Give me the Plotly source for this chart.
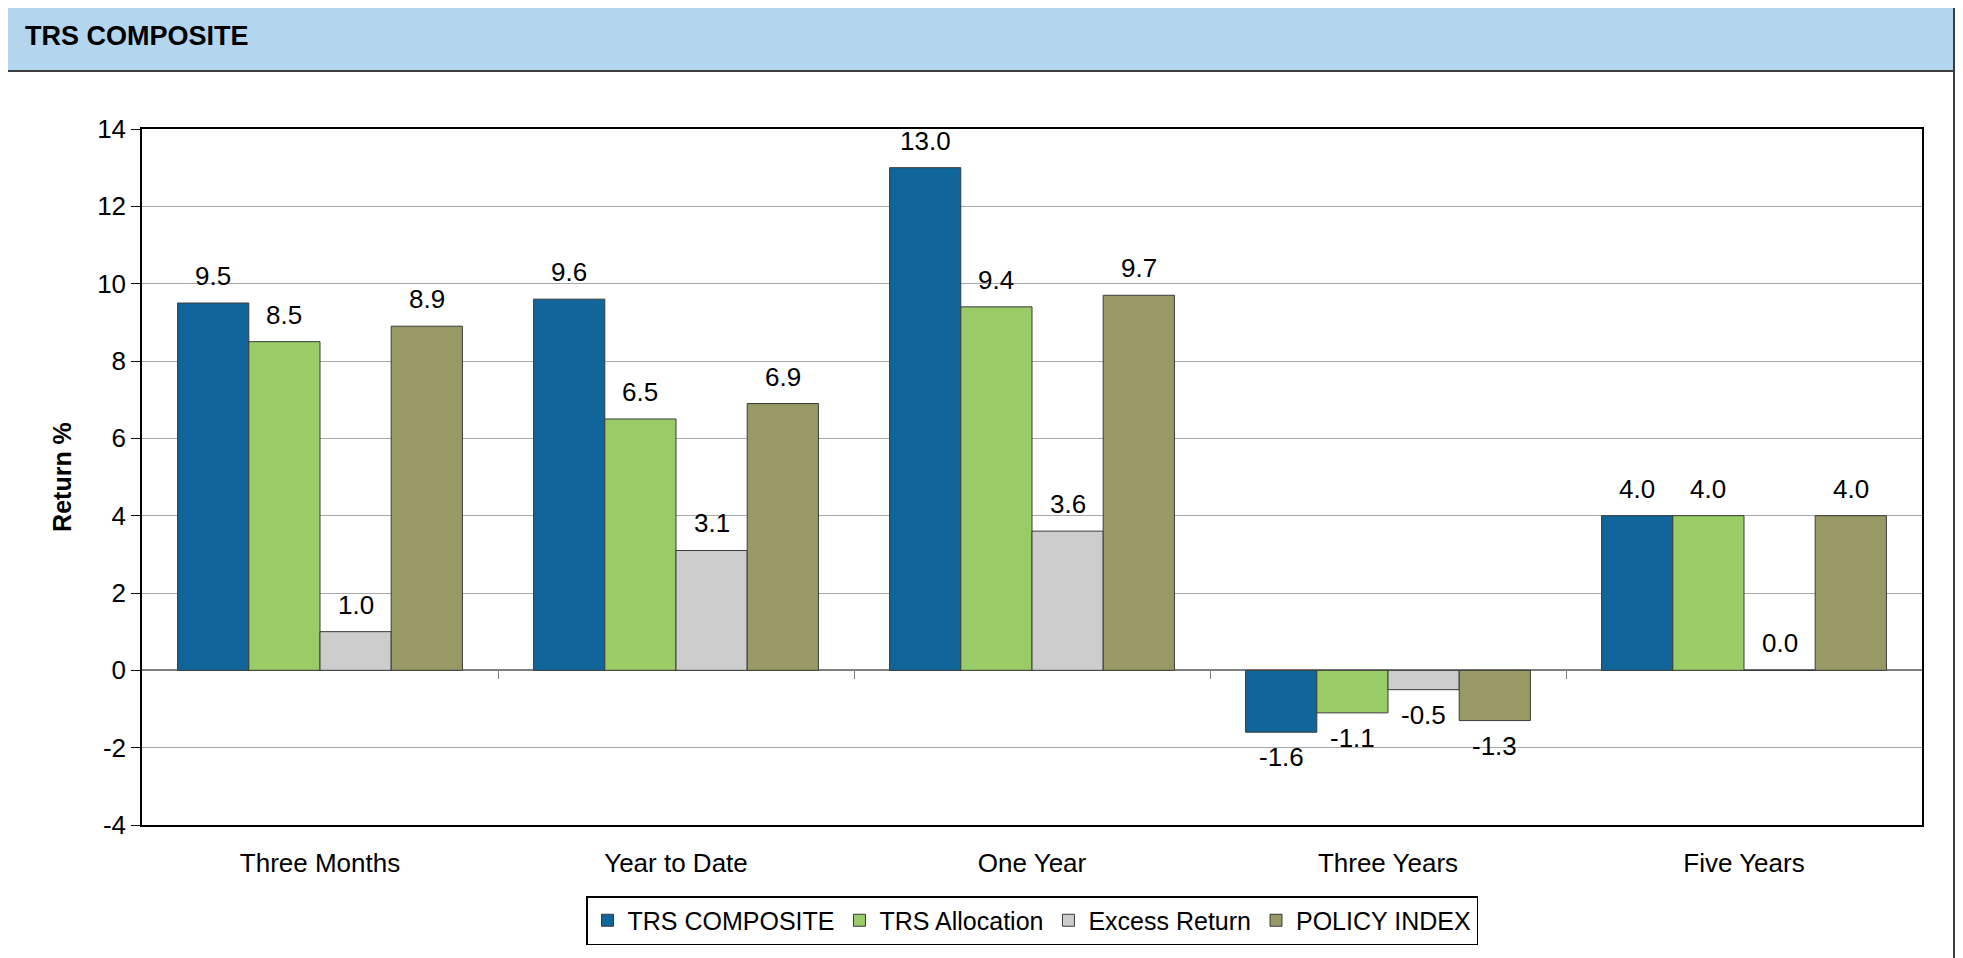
import plotly.graph_objects as go

categories = ["Three Months", "Year to Date", "One Year", "Three Years", "Five Years"]
trs_composite = [9.5, 9.6, 13.0, -1.6, 4.0]
trs_allocation = [8.5, 6.5, 9.4, -1.1, 4.0]
excess_return = [1.0, 3.1, 3.6, -0.5, 0.0]
policy_index = [8.9, 6.9, 9.7, -1.3, 4.0]
y_ticks = [-4, -2, 0, 2, 4, 6, 8, 10, 12, 14]

series = [
    ("TRS COMPOSITE", trs_composite, "#10659A"),
    ("TRS Allocation", trs_allocation, "#99CC66"),
    ("Excess Return", excess_return, "#CCCCCC"),
    ("POLICY INDEX", policy_index, "#999966"),
]

FONT = "Liberation Sans, Arial, sans-serif"
OFF = 8  # page body margin offset
W, H = 1963 - OFF, 958 - OFF
PL, PR, PT, PB = 142, 1922, 129, 825  # plot area in page pixels
L, R, T, B = PL - OFF, 1963 - PR, PT - OFF, 958 - PB
pw, ph = PR - PL, PB - PT
BARGAP = 0.2


def px_x(p):
    return (p - PL) / pw


def px_y(p):
    return (PB - p) / ph


fig = go.Figure()
for name, vals, color in series:
    fig.add_trace(go.Bar(
        name=name, x=categories, y=vals,
        marker=dict(color=color, line=dict(color="#3A3A3A", width=1)),
        hoverinfo="x+y+name",
    ))

# helper axis carrying the category-boundary ticks on the zero line
fig.add_trace(go.Scatter(x=[], y=[], xaxis="x2", showlegend=False, hoverinfo="skip"))

# value labels above / below each bar
annotations = []
n = len(series)
bw = (1 - BARGAP) / n
for j, (name, vals, color) in enumerate(series):
    for i, v in enumerate(vals):
        pos = v >= 0
        annotations.append(dict(
            x=i + (j - (n - 1) / 2) * bw, y=v, xref="x", yref="y",
            text=f"{v:.1f}", showarrow=False,
            xanchor="center", yanchor="bottom" if pos else "top",
            yshift=10 if pos else -8,
            font=dict(family=FONT, size=26, color="#000000"),
        ))

ymin, ymax = y_ticks[0], y_ticks[-1]
fig.update_layout(
    width=W, height=H,
    margin=dict(l=L, r=R, t=T, b=B, autoexpand=False),
    paper_bgcolor="white", plot_bgcolor="white",
    font=dict(family=FONT, size=25, color="#000000"),
    barmode="group", bargap=BARGAP, bargroupgap=0,
    title=dict(text="<b>TRS COMPOSITE</b>", font=dict(family=FONT, size=27, color="#000000"),
               xref="container", yref="container", x=(25 - OFF) / W, xanchor="left",
               y=1 - (36 - OFF) / H, yanchor="middle"),
    xaxis=dict(type="category", range=[-0.5, len(categories) - 0.5],
               showgrid=False, zeroline=False, showline=True, linecolor="#000000",
               linewidth=1.5, mirror=True, ticks="", ticklabelstandoff=14,
               tickfont=dict(family=FONT, size=26)),
    xaxis2=dict(type="linear", overlaying="x", anchor="free", position=(0 - ymin) / (ymax - ymin),
                range=[-0.5, len(categories) - 0.5], side="bottom",
                tickvals=[i + 0.5 for i in range(len(categories) - 1)],
                ticks="outside", ticklen=8, tickwidth=1, tickcolor="#808080",
                showticklabels=False, showgrid=False, zeroline=False, showline=False),
    yaxis=dict(range=[ymin, ymax], tickvals=y_ticks, ticktext=[str(t) for t in y_ticks],
               showgrid=True, gridcolor="#A8A8A8", gridwidth=1,
               zeroline=True, zerolinecolor="#808080", zerolinewidth=2,
               showline=True, linecolor="#000000", linewidth=1.5, mirror=True,
               ticks="outside", ticklen=9, tickcolor="#000000", tickwidth=1,
               tickfont=dict(family=FONT, size=26),
               title=dict(text="<b>Return %</b>", font=dict(family=FONT, size=25), standoff=18)),
    legend=dict(orientation="h", x=0.5, xanchor="center", y=px_y(896), yanchor="top",
                bordercolor="#000000", borderwidth=1.5, bgcolor="white",
                font=dict(family=FONT, size=25), itemclick=False, itemdoubleclick=False,
                traceorder="normal"),
    annotations=annotations,
    shapes=[
        # header band
        dict(type="rect", xref="paper", yref="paper",
             x0=px_x(5), x1=px_x(1954), y0=px_y(71), y1=px_y(1),
             fillcolor="#B3D5ED", line=dict(color="#3C3C3C", width=2), layer="below"),
        # panel side borders
        dict(type="line", xref="paper", yref="paper",
             x0=px_x(5), x1=px_x(5), y0=px_y(71), y1=px_y(962),
             line=dict(color="#3C3C3C", width=2)),
        dict(type="line", xref="paper", yref="paper",
             x0=px_x(1954), x1=px_x(1954), y0=px_y(71), y1=px_y(962),
             line=dict(color="#3C3C3C", width=2)),
    ],
)

fig.write_html("out.html")
